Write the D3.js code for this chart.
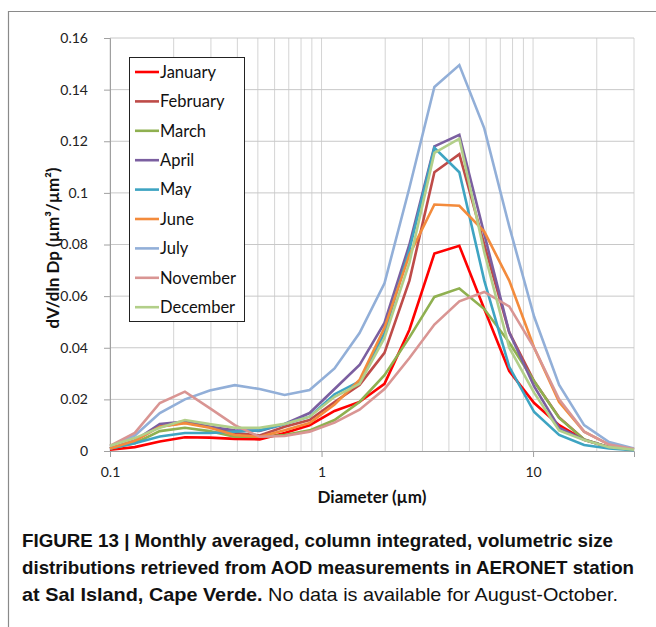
<!DOCTYPE html>
<html>
<head>
<meta charset="utf-8">
<script src="https://cdn.jsdelivr.net/npm/d3@7"></script>
<style>
  body { margin: 0; background: #fff; }
  svg { display: block; }
  .tick-label { font-family: Lato, "Open Sans", sans-serif; font-size: 14px; fill: #222; }
  .axis-title { font-family: Lato, "Open Sans", sans-serif; font-size: 17px; font-weight: bold; fill: #111; }
  .legend-text { font-family: Lato, "Open Sans", sans-serif; font-size: 16.5px; fill: #111; }
  .caption { font-family: "Liberation Sans Narrow", "Liberation Sans", sans-serif; font-size: 18.5px; fill: #111; }
</style>
</head>
<body>
<svg width="656" height="627"></svg>
<script>
// AERONET size bins (diameter, µm)
const diameters = [0.1, 0.131, 0.172, 0.226, 0.296, 0.389, 0.510, 0.669, 0.878, 1.152, 1.512,
    1.984, 2.603, 3.416, 4.481, 5.880, 7.715, 10.12, 13.28, 17.43, 22.86, 30];

const months = ["January", "February", "March", "April", "May", "June", "July", "November", "December"];
const colors = ["#ff0000", "#be4b48", "#8fb050", "#7b5fa0", "#3ea4c2", "#f38b3c", "#92afd8", "#d99593", "#b2cf89"];

const january  = [0.0005, 0.0015, 0.0037, 0.0053, 0.0052, 0.0047, 0.0045, 0.007, 0.010, 0.0155, 0.019, 0.026, 0.047, 0.0765, 0.0795, 0.055, 0.031, 0.0186, 0.010, 0.0043, 0.0015, 0.0005];
const february = [0.001, 0.004, 0.0095, 0.011, 0.0094, 0.007, 0.006, 0.0094, 0.012, 0.019, 0.0256, 0.038, 0.066, 0.108, 0.115, 0.080, 0.046, 0.027, 0.013, 0.0045, 0.0015, 0.0005];
const march    = [0.001, 0.003, 0.0077, 0.009, 0.0077, 0.0055, 0.0055, 0.0062, 0.008, 0.012, 0.019, 0.0294, 0.044, 0.0597, 0.063, 0.055, 0.042, 0.027, 0.0128, 0.0045, 0.0015, 0.0005];
const april    = [0.001, 0.004, 0.0105, 0.0114, 0.0094, 0.008, 0.0078, 0.0105, 0.0147, 0.024, 0.0333, 0.0496, 0.080, 0.118, 0.1225, 0.084, 0.046, 0.025, 0.009, 0.0043, 0.0015, 0.0005];
const may      = [0.001, 0.003, 0.0056, 0.007, 0.007, 0.0075, 0.008, 0.0105, 0.0133, 0.022, 0.027, 0.0457, 0.078, 0.1175, 0.108, 0.066, 0.0326, 0.0151, 0.0062, 0.0023, 0.001, 0.0003];
const june     = [0.001, 0.004, 0.0094, 0.0108, 0.009, 0.0062, 0.0055, 0.008, 0.0108, 0.018, 0.0275, 0.0477, 0.076, 0.0955, 0.095, 0.085, 0.066, 0.040, 0.019, 0.0075, 0.0025, 0.0008];
const july     = [0.002, 0.006, 0.0147, 0.020, 0.0234, 0.0255, 0.024, 0.0217, 0.0236, 0.032, 0.0457, 0.065, 0.102, 0.141, 0.1495, 0.125, 0.087, 0.052, 0.0256, 0.010, 0.0035, 0.001];
const november = [0.002, 0.007, 0.0186, 0.023, 0.0166, 0.010, 0.0055, 0.0058, 0.0075, 0.011, 0.016, 0.024, 0.036, 0.049, 0.058, 0.0616, 0.056, 0.040, 0.020, 0.0075, 0.0025, 0.0008];
const december = [0.002, 0.005, 0.009, 0.012, 0.0104, 0.009, 0.009, 0.0105, 0.0133, 0.021, 0.026, 0.0438, 0.073, 0.1155, 0.121, 0.077, 0.040, 0.0225, 0.008, 0.0043, 0.0015, 0.0005];

const yTicks = [0, 0.02, 0.04, 0.06, 0.08, 0.1, 0.12, 0.14, 0.16];
const xLabels = [0.1, 1, 10];

const series = [january, february, march, april, may, june, july, november, december];

const svg = d3.select("svg");

// figure frame
svg.append("path")
    .attr("d", "M8.5,627 V11.5 H656")
    .attr("fill", "none")
    .attr("stroke", "#8a8a8a")
    .attr("stroke-width", 1.2);

const x = d3.scaleLog().domain([0.1, 30]).range([110, 634]);
const y = d3.scaleLinear().domain([0, 0.16]).range([451, 38]);

// gridlines
svg.append("g").selectAll("line")
    .data(x.ticks())
    .enter().append("line")
    .attr("x1", d => x(d)).attr("x2", d => x(d))
    .attr("y1", y(0)).attr("y2", y(0.16))
    .attr("stroke", "#d4d4d4").attr("stroke-width", 1);

svg.append("g").selectAll("line")
    .data(yTicks.slice(1))
    .enter().append("line")
    .attr("x1", x(0.1)).attr("x2", x(30))
    .attr("y1", d => y(d)).attr("y2", d => y(d))
    .attr("stroke", "#c8c8c8").attr("stroke-width", 1);

// axes
const yAxis = svg.append("g")
    .attr("transform", "translate(" + x(0.1) + ",0)")
    .call(d3.axisLeft(y).tickValues(yTicks).tickSize(6).tickPadding(16)
        .tickFormat(d => d3.format("")(+d.toFixed(2))));
yAxis.select(".domain").attr("stroke", "#a0a0a0");
yAxis.selectAll(".tick line").attr("stroke", "#a0a0a0");
yAxis.selectAll(".tick text").attr("class", "tick-label").attr("font-family", null).attr("font-size", null);

const xAxis = svg.append("g")
    .attr("transform", "translate(0," + y(0) + ")")
    .call(d3.axisBottom(x).tickValues(xLabels).tickSize(6).tickPadding(10)
        .tickFormat(d3.format("")));
xAxis.select(".domain").attr("stroke", "#a0a0a0");
xAxis.selectAll(".tick line").attr("stroke", "#a0a0a0");
xAxis.selectAll(".tick text").attr("class", "tick-label").attr("font-family", null).attr("font-size", null);

// curves
const line = d3.line()
    .x((d, i) => x(diameters[i]))
    .y(d => y(d));

svg.append("g").selectAll("path")
    .data(series)
    .enter().append("path")
    .attr("d", line)
    .attr("fill", "none")
    .attr("stroke", (d, i) => colors[i])
    .attr("stroke-width", 2.6)
    .attr("stroke-linejoin", "miter");

// axis titles
svg.append("text")
    .attr("class", "axis-title")
    .attr("text-anchor", "middle")
    .attr("x", 372)
    .attr("y", 503)
    .text("Diameter (µm)");

svg.append("text")
    .attr("class", "axis-title")
    .attr("text-anchor", "middle")
    .attr("transform", "translate(59,248) rotate(-90)")
    .text("dV/dln Dp (µm³/µm²)");

// legend
const legend = svg.append("g");
legend.append("rect")
    .attr("x", 129.5).attr("y", 57.5)
    .attr("width", 115).attr("height", 264)
    .attr("fill", "#fff").attr("stroke", "#222").attr("stroke-width", 1);

const items = legend.selectAll("g.item")
    .data(months)
    .enter().append("g")
    .attr("class", "item")
    .attr("transform", (d, i) => "translate(135," + (72 + i * 29.4) + ")");
items.append("line")
    .attr("x1", 0).attr("x2", 24)
    .attr("stroke", (d, i) => colors[i])
    .attr("stroke-width", 2.6);
items.append("text")
    .attr("class", "legend-text")
    .attr("x", 25).attr("dy", "0.35em")
    .text(d => d);

// caption
const cap = svg.append("g").attr("class", "caption");
cap.append("text").attr("x", 22).attr("y", 547).attr("font-weight", "bold")
    .attr("textLength", 591).attr("lengthAdjust", "spacingAndGlyphs")
    .text("FIGURE 13 | Monthly averaged, column integrated, volumetric size");
cap.append("text").attr("x", 22).attr("y", 574).attr("font-weight", "bold")
    .attr("textLength", 612).attr("lengthAdjust", "spacingAndGlyphs")
    .text("distributions retrieved from AOD measurements in AERONET station");
const l3 = cap.append("text").attr("x", 22).attr("y", 601)
    .attr("textLength", 596).attr("lengthAdjust", "spacingAndGlyphs");
l3.append("tspan").attr("font-weight", "bold").text("at Sal Island, Cape Verde.");
l3.append("tspan").text(" No data is available for August-October.");
</script>
</body>
</html>
